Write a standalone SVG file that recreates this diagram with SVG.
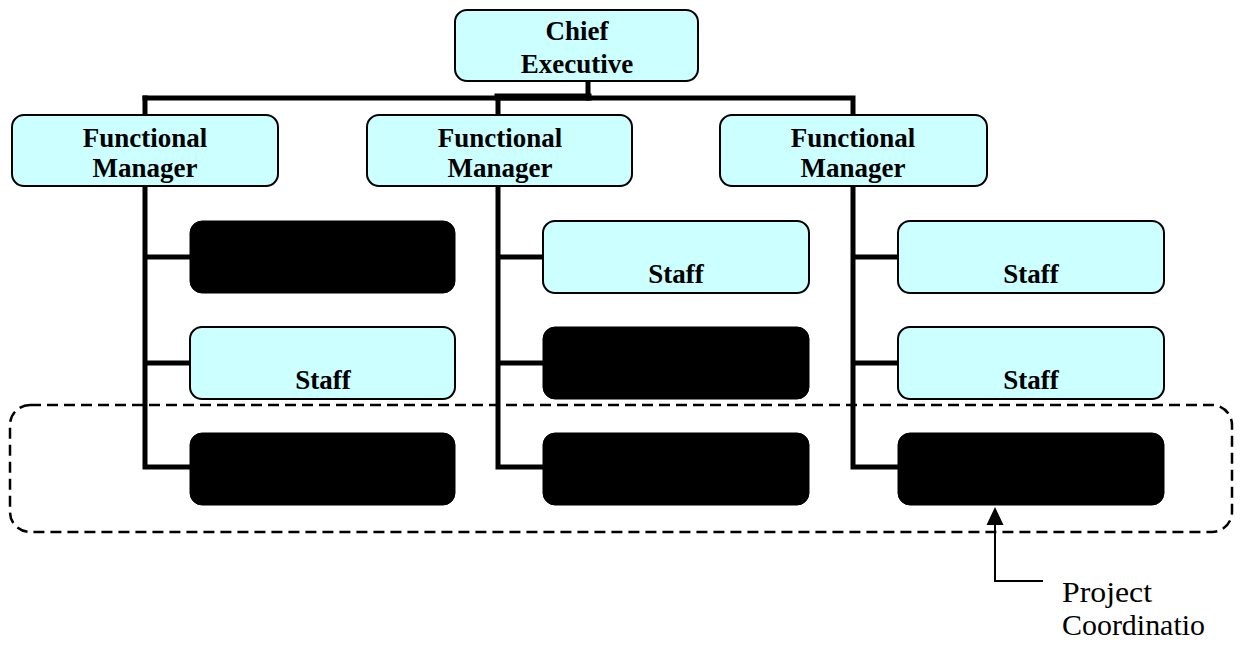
<svg xmlns="http://www.w3.org/2000/svg" width="1242" height="646" viewBox="0 0 1242 646">
<style>
.box{fill:#CCFFFF;stroke:#000;stroke-width:2}
.blk{fill:#000;stroke:#000;stroke-width:1}
.lbl{font-family:"Liberation Serif","Times New Roman",serif;font-weight:bold;font-size:27px;text-anchor:middle;fill:#000}
.conn{fill:none;stroke:#000;stroke-width:5;stroke-linejoin:miter;stroke-linecap:square}
.note{font-family:"Liberation Serif","Times New Roman",serif;font-size:29px;fill:#000}
</style>
<rect width="1242" height="646" fill="#fff"/>
<g id="connectors">
<path class="conn" d="M588,81 V98"/>
<path class="conn" d="M145,98 H853 V115"/>
<path class="conn" d="M498,97 H588" style="stroke-width:7"/>
<path class="conn" d="M145,98 V115"/>
<path class="conn" d="M498,98 V115"/>
<path class="conn" d="M145,186 V467 H190 M145,257 H190 M145,363 H190"/>
<path class="conn" d="M498,186 V467 H543 M498,257 H543 M498,363 H543"/>
<path class="conn" d="M853,186 V467 H898 M853,257 H898 M853,363 H898"/>
</g>
<g id="project-group">
<rect x="10" y="405" width="1222" height="127" rx="20" ry="20" fill="none" stroke="#000" stroke-width="2.5" stroke-dasharray="11,6"/>
</g>
<g id="chief">
<rect class="box" x="455" y="10" width="243" height="71" rx="12"/>
<text class="lbl" x="577" y="40">Chief</text>
<text class="lbl" x="577" y="73">Executive</text>
</g>
<g id="fm1">
<rect class="box" x="12" y="115" width="266" height="71" rx="12"/>
<text class="lbl" x="145" y="147">Functional</text>
<text class="lbl" x="145" y="177">Manager</text>
</g>
<g id="fm2">
<rect class="box" x="367" y="115" width="265" height="71" rx="12"/>
<text class="lbl" x="500" y="147">Functional</text>
<text class="lbl" x="500" y="177">Manager</text>
</g>
<g id="fm3">
<rect class="box" x="720" y="115" width="267" height="71" rx="12"/>
<text class="lbl" x="853" y="147">Functional</text>
<text class="lbl" x="853" y="177">Manager</text>
</g>
<g id="s11"><rect class="blk" x="190" y="221" width="265" height="72" rx="12"/></g>
<g id="s12"><rect class="box" x="190" y="327" width="265" height="72" rx="12"/><text class="lbl" x="323" y="389">Staff</text></g>
<g id="s13"><rect class="blk" x="190" y="433" width="265" height="72" rx="12"/></g>
<g id="s21"><rect class="box" x="543" y="221" width="266" height="72" rx="12"/><text class="lbl" x="676" y="283">Staff</text></g>
<g id="s22"><rect class="blk" x="543" y="327" width="266" height="72" rx="12"/></g>
<g id="s23"><rect class="blk" x="543" y="433" width="266" height="72" rx="12"/></g>
<g id="s31"><rect class="box" x="898" y="221" width="266" height="72" rx="12"/><text class="lbl" x="1031" y="283">Staff</text></g>
<g id="s32"><rect class="box" x="898" y="327" width="266" height="72" rx="12"/><text class="lbl" x="1031" y="389">Staff</text></g>
<g id="s33"><rect class="blk" x="898" y="433" width="266" height="72" rx="12"/></g>
<g id="annotation">
<path d="M1043,581 H995 V525" fill="none" stroke="#000" stroke-width="2"/>
<path d="M995,507 L986.5,525 L1003.5,525 z" fill="#000"/>
<text class="note" x="1062" y="602" textLength="90" lengthAdjust="spacingAndGlyphs">Project</text>
<text class="note" x="1062" y="635" textLength="143" lengthAdjust="spacingAndGlyphs">Coordinatio</text>
</g>
</svg>
